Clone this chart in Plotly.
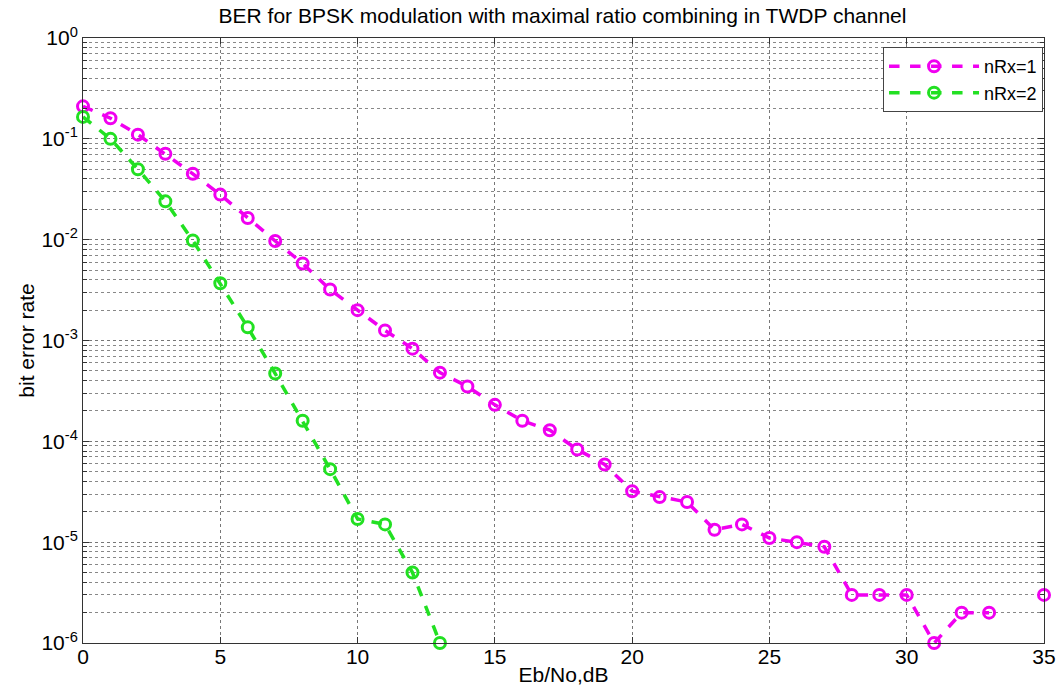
import plotly.graph_objects as go

ebno = list(range(0, 36))
ber_nrx1 = [0.21, 0.16, 0.11, 0.071, 0.045, 0.028, 0.0164, 0.0097, 0.0058, 0.0032,
            0.0020, 0.00126, 0.00083, 0.00048, 0.00035, 0.00023, 0.00016, 0.000129,
            8.3e-5, 5.9e-5, 3.2e-5, 2.8e-5, 2.5e-5, 1.33e-5, 1.5e-5, 1.1e-5, 1.0e-5,
            9e-6, 3e-6, 3e-6, 3e-6, 1e-6, 2e-6, 2e-6, None, 3e-6]
ebno2 = list(range(0, 14))
ber_nrx2 = [0.165, 0.1, 0.05, 0.024, 0.0098, 0.0037, 0.00135, 0.00047, 0.00016,
            5.3e-5, 1.7e-5, 1.5e-5, 5e-6, 1e-6]

ytick_vals = [1e-6, 1e-5, 1e-4, 1e-3, 1e-2, 1e-1, 1]
ytick_text = ["10<sup>-6</sup>", "10<sup>-5</sup>", "10<sup>-4</sup>", "10<sup>-3</sup>",
              "10<sup>-2</sup>", "10<sup>-1</sup>", "10<sup>0</sup>"]

fig = go.Figure()
fig.add_trace(go.Scatter(x=ebno, y=ber_nrx1, mode="lines+markers", name="nRx=1",
                         line=dict(color="#f000f0", width=3.5, dash="dash"),
                         marker=dict(symbol="circle-open", size=11, color="#f000f0",
                                     line=dict(width=3, color="#f000f0")),
                         connectgaps=False, cliponaxis=False))
fig.add_trace(go.Scatter(x=ebno2, y=ber_nrx2, mode="lines+markers", name="nRx=2",
                         line=dict(color="#22e022", width=3.5, dash="dash"),
                         marker=dict(symbol="circle-open", size=11, color="#22e022",
                                     line=dict(width=3, color="#22e022")),
                         cliponaxis=False))

font = "Liberation Sans, Arial, sans-serif"
fig.update_layout(
    width=1059, height=688,
    margin=dict(l=83, r=15, t=38, b=45, autoexpand=False),
    paper_bgcolor="white", plot_bgcolor="white",
    font=dict(family=font, color="black", size=20),
    title=dict(text="BER for BPSK modulation with maximal ratio combining in TWDP channel",
               x=0.499, xanchor="center", xref="paper",
               y=1 - 16 / 688, yanchor="middle", yref="container",
               font=dict(size=21, family=font, color="black")),
    showlegend=True,
    legend=dict(x=0.999, y=0.985, xanchor="right", yanchor="top",
                bordercolor="#444", borderwidth=1, bgcolor="white",
                font=dict(size=18, family=font), tracegroupgap=0,
                itemwidth=90),
    xaxis=dict(range=[0, 35], dtick=5, tick0=0, showgrid=True, gridcolor="#777",
               griddash="dot", gridwidth=1, zeroline=False, showline=True,
               linecolor="#333", linewidth=1, mirror="ticks", ticks="inside",
               ticklen=6, tickcolor="#333", automargin=False,
               ticklabelstandoff=-5,
               tickfont=dict(size=21, family=font),
               title=dict(text="Eb/No,dB", font=dict(size=21, family=font), standoff=0)),
    yaxis=dict(type="log", range=[-6, 0], tickvals=ytick_vals, ticktext=ytick_text,
               showgrid=True, gridcolor="#777", griddash="dot", gridwidth=1,
               zeroline=False, showline=True, linecolor="#333", linewidth=1,
               mirror="ticks", ticks="inside", ticklen=6, tickcolor="#333",
               automargin=False,
               tickfont=dict(size=21, family=font),
               minor=dict(dtick="D1", ticks="inside", ticklen=4, tickcolor="#333",
                          showgrid=True, gridcolor="#888", griddash="dot", gridwidth=1),
               title=dict(text="bit error rate", font=dict(size=21, family=font), standoff=1)),
)

fig.write_html("out.html")
